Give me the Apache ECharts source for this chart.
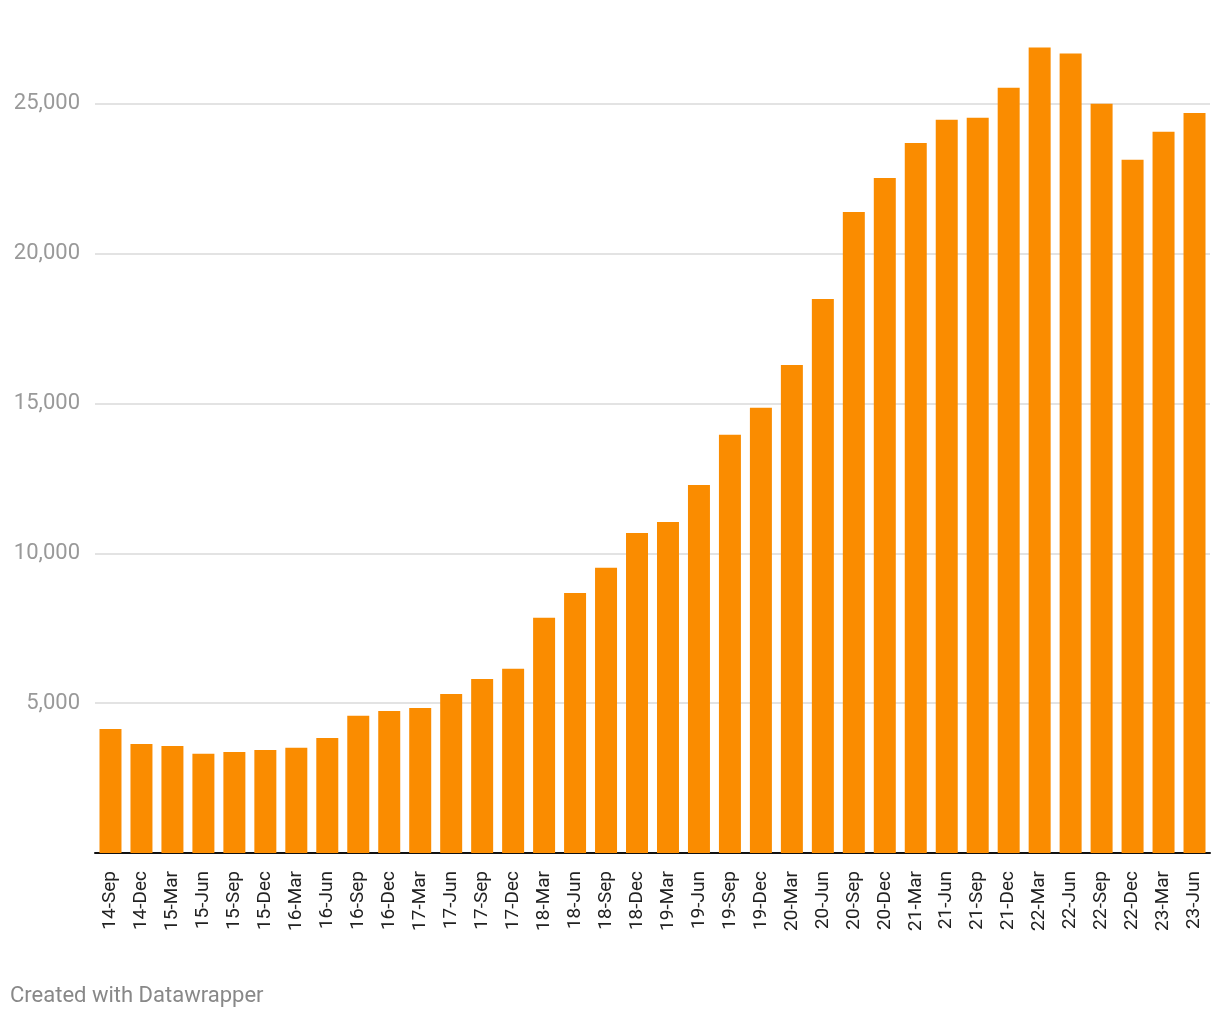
<!DOCTYPE html>
<html>
<head>
<meta charset="utf-8">
<script src="https://cdn.jsdelivr.net/npm/echarts@6/dist/echarts.min.js"></script>
<style>
  html, body { margin: 0; padding: 0; background: #fff; }
  #chart { width: 1220px; height: 1020px; }
</style>
</head>
<body>
<div id="chart"></div>
<script>
// 季度标签
const quarters = ['14-Sep', '14-Dec', '15-Mar', '15-Jun', '15-Sep', '15-Dec', '16-Mar', '16-Jun',
  '16-Sep', '16-Dec', '17-Mar', '17-Jun', '17-Sep', '17-Dec', '18-Mar', '18-Jun', '18-Sep', '18-Dec',
  '19-Mar', '19-Jun', '19-Sep', '19-Dec', '20-Mar', '20-Jun', '20-Sep', '20-Dec', '21-Mar', '21-Jun',
  '21-Sep', '21-Dec', '22-Mar', '22-Jun', '22-Sep', '22-Dec', '23-Mar', '23-Jun']
// 柱子数值
const values = [4140, 3640, 3570, 3310, 3370, 3440, 3510, 3840, 4580, 4740, 4840, 5310, 5810, 6150,
  7850, 8680, 9520, 10680, 11050, 12280, 13960, 14860, 16290, 18490, 21390, 22530, 23700, 24470,
  24540, 25540, 26880, 26680, 25010, 23140, 24070, 24700]

const chart = echarts.init(document.getElementById('chart'))

const option = {
  animation: false,
  textStyle: { fontFamily: 'Roboto' },
  grid: { left: 95, right: 10, top: 44, bottom: 167 },
  graphic: [{
    type: 'text',
    left: 10,
    top: 985,
    style: { text: 'Created with Datawrapper', fill: '#888', font: '22px Roboto' }
  }],
  xAxis: {
    type: 'category',
    data: quarters,
    axisLine: { lineStyle: { color: '#111', width: 2 } },
    axisTick: { show: false },
    axisLabel: {
      interval: 0,
      rotate: 90,
      margin: 18,
      color: '#222',
      fontSize: 19
    }
  },
  yAxis: {
    type: 'value',
    min: 0,
    max: 27000,
    interval: 5000,
    axisLine: { show: false },
    axisTick: { show: false },
    axisLabel: {
      color: '#999',
      fontSize: 22,
      margin: 15,
      showMinLabel: false,
      showMaxLabel: false,
      formatter: v => v.toLocaleString('en-US')
    },
    splitLine: {
      showMinLine: false,
      showMaxLine: false,
      lineStyle: { color: '#e3e3e3', width: 2 }
    }
  },
  series: [{
    type: 'bar',
    data: values,
    barCategoryGap: '29%',
    itemStyle: { color: '#fa8c00' }
  }]
}

chart.setOption(option)
</script>
</body>
</html>
